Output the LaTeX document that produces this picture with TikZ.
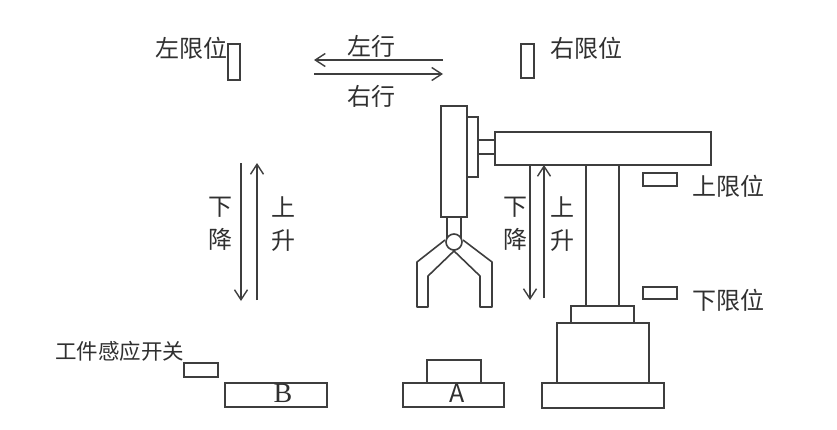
\documentclass[tikz,border=0pt]{standalone}
\usepackage{fontspec}
\newfontfamily\cjk{Noto Sans CJK SC}
\newfontfamily\markfont{Liberation Serif}
\usetikzlibrary{positioning,arrows.meta}
\definecolor{linegray}{HTML}{3E3E3E}
\definecolor{textgray}{HTML}{303030}
\begin{document}
\begin{tikzpicture}[x=1pt,y=-1pt,line width=1.6pt,
  part/.style={draw=linegray,fill=white,inner sep=0pt,outer sep=0pt},
  sensor/.style={part,minimum width=34pt,minimum height=13pt},
  label/.style={text=textgray,inner sep=0pt,font=\cjk\fontsize{24}{33}\selectfont,align=center},
  travel/.style={draw=linegray,line width=1.4pt,-{Straight Barb[length=10pt,width=13pt,line width=1.4pt]}}]
\useasboundingbox (0,0) rectangle (837,429);
% limit switches on the top
\node (leftSw) [part,minimum width=12pt,minimum height=36pt] at (234,62) {};
\node (rightSw) [part,minimum width=13pt,minimum height=34pt] at (527.5,61) {};
\node (leftLbl) [label] at (191.5,48) {左限位};
\node (rightLbl) [label] at (586.5,48) {右限位};
\coordinate (railL) at (314,60); \coordinate (railR) at (443,60);
\coordinate (rail2L) at (314,74); \coordinate (rail2R) at (443,74);
\draw [travel] (railR) -- (railL);
\draw [travel] (rail2L) -- (rail2R);
\node (goLeft) [label] at (371,46) {左行};
\node (goRight) [label] at (371,96) {右行};
% left pair of arrows
\coordinate (downA) at (241,163); \coordinate (downB) at (241,301);
\coordinate (upA) at (257,300); \coordinate (upB) at (257,163);
\draw [travel] (downA) -- (downB);
\draw [travel] (upA) -- (upB);
\node (downLbl) [label] at (220,224) {下\\降};
\node (upLbl) [label] at (283,224) {上\\升};
% machine
\node (base) [part,minimum width=122pt,minimum height=25pt] at (603,395.5) {};
\node (body) [part,minimum width=92pt,minimum height=60pt,above=0pt of base] {};
\node (neck) [part,minimum width=63pt,minimum height=17pt,above=0pt of body,xshift=-0.5pt] {};
\node (column) [part,minimum width=33pt,minimum height=141pt,above=0pt of neck] {};
\node (beam) [part,minimum width=216pt,minimum height=33pt,anchor=north west] at (495,132) {};
\node (stub) [part,minimum width=17pt,minimum height=14pt,left=0pt of beam,yshift=1.5pt] {};
\node (plate) [part,minimum width=11pt,minimum height=60pt,left=0pt of stub] {};
\node (head) [part,minimum width=26pt,minimum height=111pt,anchor=north west] at (441,106) {};
\node (rod) [part,minimum width=14pt,minimum height=22pt,anchor=north] at (head.south) {};
% gripper
\draw [linegray,line join=round] (445,240) -- (417,262) -- (417,307) -- (428,307) -- (428,276) -- (455,250);
\draw [linegray,line join=round] (463,240) -- (492,262) -- (492,307) -- (480,307) -- (480,276) -- (453,250);
\node (pivot) [part,fill=white,circle,minimum size=16pt] at (454,242) {};
% arrows by the arm
\coordinate (armDownA) at (530,165); \coordinate (armDownB) at (530,300);
\coordinate (armUpA) at (544,298); \coordinate (armUpB) at (544,165);
\draw [travel] (armDownA) -- (armDownB);
\draw [travel] (armUpA) -- (armUpB);
\node (armDownLbl) [label] at (515,224) {下\\降};
\node (armUpLbl) [label] at (562,224) {上\\升};
% column sensors
\node (upperSw) [sensor] at (660,179.5) {};
\node (lowerSw) [sensor,minimum height=12pt] at (660,293) {};
\node (upperLbl) [label,right=15pt of upperSw,yshift=-7pt] {上限位};
\node (lowerLbl) [label,right=15pt of lowerSw,yshift=-7pt] {下限位};
% workpieces
\node (plateB) [part,minimum width=102pt,minimum height=24pt] at (276,395) {};
\node (plateA) [part,minimum width=101pt,minimum height=24pt] at (453.5,395) {};
\node (piece) [part,minimum width=54pt,minimum height=23pt,anchor=south] at (454,383) {};
\node (markB) [text=textgray,inner sep=0pt,font=\markfont\fontsize{28}{28}\selectfont] at (283,393) {B};
\node (markA) [text=textgray,inner sep=0pt,font=\cjk\fontsize{25}{25}\selectfont] at (457.5,393) {A};
\node (pieceSw) [sensor,minimum height=14pt] at (201,370) {};
\node (pieceLbl) [label,font=\cjk\fontsize{21.5}{24}\selectfont] at (119.5,351) {工件感应开关};
\end{tikzpicture}
\end{document}
